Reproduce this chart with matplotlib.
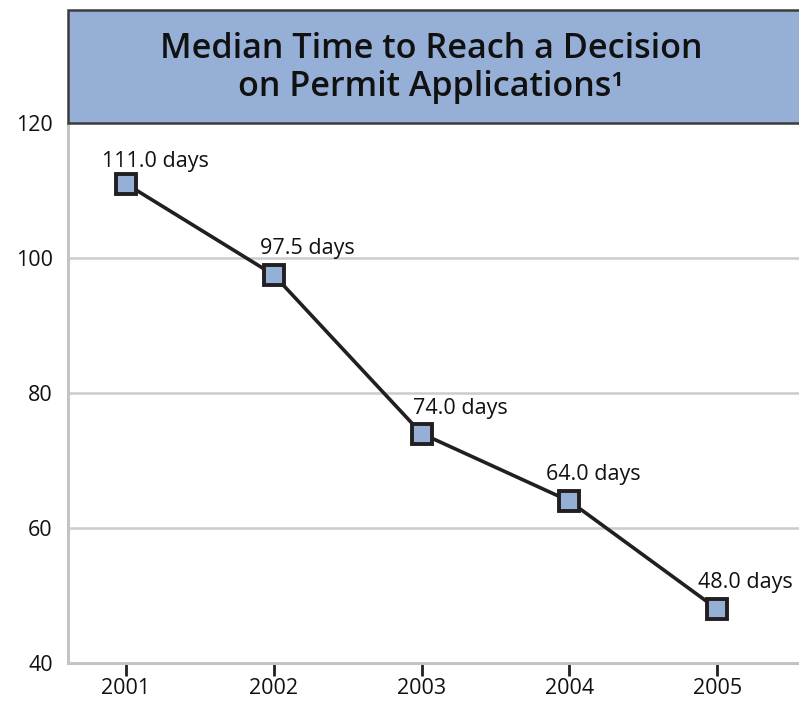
import numpy as np
import matplotlib.pyplot as plt
from matplotlib.patches import Rectangle

# data
years = [2001, 2002, 2003, 2004, 2005]
median_days = [111.0, 97.5, 74.0, 64.0, 48.0]
point_labels = ['111.0 days', '97.5 days', '74.0 days', '64.0 days', '48.0 days']
yticks = [40, 60, 80, 100, 120]
title = 'Median Time to Reach a Decision\non Permit Applications\u00b9'

plt.rcParams['font.family'] = ['Open Sans', 'DejaVu Sans']

fig = plt.figure(figsize=(7.99, 7.02), dpi=100)
ax = fig.add_axes([68 / 799, 39 / 702, 1 - 68 / 799, 540 / 702])

fill = '#96afd6'
dark = '#231f20'

ax.plot(years, median_days, color=dark, lw=2.6, zorder=3,
        marker='s', ms=14.5, mfc=fill, mec=dark, mew=2.8)

# label offsets in points (dx, dy) relative to each marker, baseline anchored
offsets = [(-17, 12), (-10, 15), (-6, 14), (-17, 15), (-14, 15)]
for x, y, lab, (dx, dy) in zip(years, median_days, point_labels, offsets):
    ax.annotate(lab, (x, y), xytext=(dx, dy), textcoords='offset points',
                ha='left', va='baseline', fontsize=15.5, color='#111111',
                annotation_clip=False, zorder=4)

ax.set_xlim(2000.608, 2005.554)
ax.set_ylim(40, 120)
ax.set_xticks(years)
ax.set_yticks(yticks)
ax.tick_params(axis='x', length=9, width=2, color=dark, labelsize=15.5,
               pad=2, labelcolor='#111111')
ax.tick_params(axis='y', length=0, labelsize=15.5, pad=11, labelcolor='#111111')

for v in [60, 80, 100]:
    ax.axhline(v, color='#cccccc', lw=1.8, zorder=1)

for s in ['top', 'right']:
    ax.spines[s].set_visible(False)
for s in ['left', 'bottom']:
    ax.spines[s].set_color('#c4c4c4')
    ax.spines[s].set_linewidth(2.2)

# title box above the plot area
box_h = 113 / 540
ax.add_patch(Rectangle((0, 1), 1.05, box_h, transform=ax.transAxes,
                       facecolor=fill, edgecolor='#3c3c3c', lw=1.8,
                       clip_on=False, zorder=5))
ax.text(0.497, 1 + box_h / 2 - 0.003, title, transform=ax.transAxes,
        ha='center', va='center', fontsize=24.6, fontweight='semibold',
        color='#111111', linespacing=1.16, zorder=6)

fig.savefig('out.png', dpi=100)
